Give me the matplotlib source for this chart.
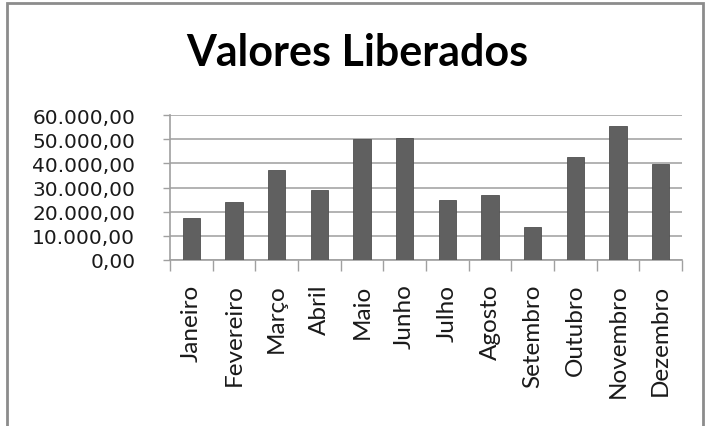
import matplotlib.pyplot as plt
from matplotlib.patches import Rectangle
from matplotlib.ticker import FuncFormatter
import numpy as np

meses = ["Janeiro", "Fevereiro", "Março", "Abril", "Maio", "Junho",
         "Julho", "Agosto", "Setembro", "Outubro", "Novembro", "Dezembro"]
valores = [17400, 24100, 37400, 29000, 49900, 50600,
           24700, 26800, 13500, 42600, 55300, 39900]
yticks = [0, 10000, 20000, 30000, 40000, 50000, 60000]


def fmt_br(v, pos=None):
    s = f"{v:,.2f}"
    return s.replace(",", "X").replace(".", ",").replace("X", ".")


fig = plt.figure(figsize=(7.1, 4.27), dpi=100)
ax = fig.add_axes([170 / 710, 1 - 261 / 427, 512 / 710, 145 / 427])

x = np.arange(len(meses))
ax.bar(x, valores, width=0.4, color="#606060", edgecolor="#505050",
       linewidth=0.6, zorder=3)

ax.set_xlim(-0.5, len(meses) - 0.5)
ax.set_ylim(0, 60000)
ax.set_yticks(yticks)
ax.yaxis.set_major_formatter(FuncFormatter(fmt_br))
ax.yaxis.grid(True, color="#a6a6a6", linewidth=1.2, zorder=0)

ax.tick_params(axis="x", which="major", length=8, color="#a0a0a0", width=1)
ax.tick_params(axis="x", which="minor", length=0, pad=17)
ax.tick_params(axis="y", length=5, color="#a0a0a0", width=1, labelsize=14.5,
               pad=20, labelcolor="#1a1a1a")

ax.set_xticks(np.arange(-0.5, len(meses)))
ax.set_xticklabels([])
ax.set_xticks(x, minor=True)
ax.set_xticklabels(meses, minor=True)
for lab in ax.get_xticklabels(minor=True):
    lab.set_rotation(90)
    lab.set_va("top")
    lab.set_ha("center")
    lab.set_fontsize(17.5)
    lab.set_family("Lato")
    lab.set_color("#1a1a1a")
for lab in ax.get_yticklabels():
    lab.set_family("DejaVu Sans")

for side in ["top", "right"]:
    ax.spines[side].set_visible(False)
for side in ["left", "bottom"]:
    ax.spines[side].set_color("#a0a0a0")
    ax.spines[side].set_linewidth(1.2)

fig.text(357 / 710, 1 - 66 / 427, "Valores Liberados", ha="center",
         va="baseline", fontsize=31, fontweight="bold", family="Lato")

fig.patches.append(Rectangle((7 / 710, -0.1), 696 / 710, 1.1 - 4 / 427,
                             transform=fig.transFigure, fill=False,
                             edgecolor="#8c8c8c", linewidth=2))

fig.savefig("out.png", dpi=100)
